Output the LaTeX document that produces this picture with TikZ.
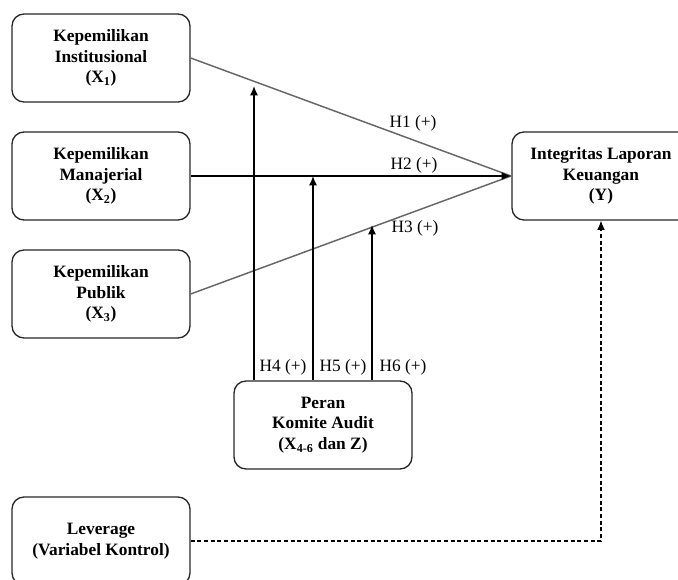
\documentclass[tikz,border=0pt]{standalone}
\usepackage{fontspec}
\setmainfont{Liberation Serif}
\usetikzlibrary{arrows.meta}
\tikzset{
    varbox/.style={draw=black!85,line width=1pt,rounded corners=9pt,
        minimum width=133.5pt,minimum height=66pt,align=center,
        font=\fontsize{13}{15.5}\selectfont\bfseries,inner sep=2pt},
    hlabel/.style={font=\fontsize{13}{15}\selectfont,inner sep=1pt},
    arr/.style={line width=1pt,-{Latex[length=7pt,width=6pt]}},
}
\begin{document}
\begin{tikzpicture}[x=0.75pt,y=-0.75pt]
    \useasboundingbox (0,0) rectangle (678,580);
    %% variables
    \node[varbox] (x1) at (101,58) {Kepemilikan\\Institusional\\(X\textsubscript{1})};
    \node[varbox] (x2) at (101,176) {Kepemilikan\\Manajerial\\(X\textsubscript{2})};
    \node[varbox] (x3) at (101,294) {Kepemilikan\\Publik\\(X\textsubscript{3})};
    \node[varbox] (y) at (601,176) {Integritas Laporan\\Keuangan\\(Y)};
    \node[varbox] (komite) at (323,425) {Peran\\Komite Audit\\(X\textsubscript{4-6} dan Z)};
    \node[varbox] (lev) at (101,541) {Leverage\\(Variabel Kontrol)};
    %% direct paths
    \coordinate (conv) at (511,176);
    \draw[line width=1.1pt,black!60] (x1.east) -- (conv);
    \draw[line width=1.1pt,black!60] (x3.east) -- (conv);
    \draw[arr] (x2.east) -- (conv);
    \node[hlabel] (h1) at (413,123) {H1 (+)};
    \node[hlabel] (h2) at (414,165) {H2 (+)};
    \node[hlabel] (h3) at (415,228) {H3 (+)};
    %% moderating paths
    \coordinate (t4) at (254,86);
    \coordinate (t5) at (313,176);
    \coordinate (t6) at (372,225);
    \foreach \t in {t4,t5,t6} {
        \draw[arr] (komite.north -| \t) -- (\t);
    }
    \node[hlabel] (h4) at (283,367) {H4 (+)};
    \node[hlabel] (h5) at (343,367) {H5 (+)};
    \node[hlabel] (h6) at (403,367) {H6 (+)};
    %% control
    \draw[line width=0.9pt,dash pattern=on 3pt off 2pt,-{Latex[length=7pt,width=6pt]}]
        (lev.east) -| (y.south);
\end{tikzpicture}
\end{document}
